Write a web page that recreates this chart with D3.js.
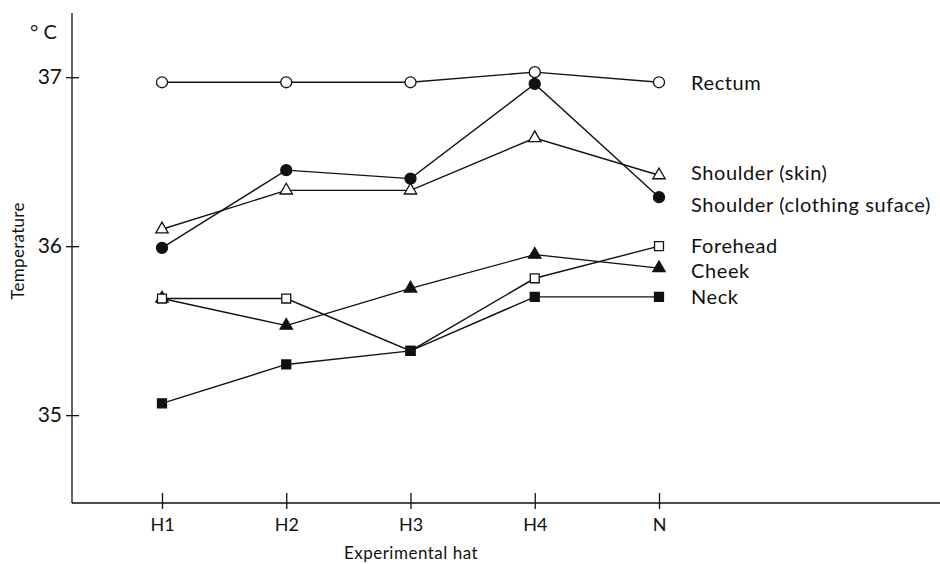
<!DOCTYPE html>
<html>
<head>
<meta charset="utf-8">
<script src="https://cdn.jsdelivr.net/npm/d3@7"></script>
<style>
  body { margin: 0; background: #fff; }
  svg text { font-family: Lato, "Open Sans", sans-serif; fill: #111; }
</style>
</head>
<body>
<svg id="chart" width="940" height="564"></svg>
<script>
// hats on the x axis
var hats = ["H1", "H2", "H3", "H4", "N"];

// temperatures (deg C)
var rectum           = [36.97, 36.97, 36.97, 37.03, 36.97];
var shoulderClothing = [35.99, 36.45, 36.40, 36.96, 36.29];
var shoulderSkin     = [36.10, 36.33, 36.33, 36.64, 36.42];
var forehead         = [35.69, 35.69, 35.38, 35.81, 36.00];
var cheek            = [35.69, 35.53, 35.75, 35.95, 35.87];
var neck             = [35.07, 35.30, 35.38, 35.70, 35.70];

var yTicks = [35, 36, 37];

// draw order matters: later series sit on top
var series = [
  {name: "Cheek", values: cheek, marker: "triangle", filled: true, dy: 3},
  {name: "Forehead", values: forehead, marker: "square", filled: false, dy: 0},
  {name: "Neck", values: neck, marker: "square", filled: true, dy: 0},
  {name: "Shoulder (clothing suface)", values: shoulderClothing, marker: "circle", filled: true, dy: 8},
  {name: "Shoulder (skin)", values: shoulderSkin, marker: "triangle", filled: false, dy: -2},
  {name: "Rectum", values: rectum, marker: "circle", filled: false, dy: 1}
];

var svg = d3.select("#chart");

var axisX = 72, axisY = 503;

var x = d3.scalePoint().domain(hats).range([162, 659]);
var y = d3.scaleLinear().domain([34.48, 37.38]).range([axisY, 13]);

// y axis
var yAxis = svg.append("g").attr("transform", "translate(" + axisX + ",0)")
  .call(d3.axisLeft(y).tickValues(yTicks).tickSize(0).tickPadding(10).tickFormat(d3.format("d")));
yAxis.select(".domain").remove();
yAxis.selectAll("text").attr("font-size", 21).attr("font-family", null);
yAxis.selectAll(".tick").append("line")
  .attr("x1", -6).attr("x2", 7).attr("stroke", "#111").attr("stroke-width", 1.3);
svg.append("line").attr("x1", axisX).attr("x2", axisX).attr("y1", 13).attr("y2", axisY)
  .attr("stroke", "#111").attr("stroke-width", 1.3);

// x axis
var xAxis = svg.append("g").attr("transform", "translate(0," + axisY + ")")
  .call(d3.axisBottom(x).tickSize(0).tickPadding(15));
xAxis.select(".domain").remove();
xAxis.selectAll("text").attr("font-size", 18).attr("font-family", null);
xAxis.selectAll(".tick").append("line")
  .attr("y1", -10).attr("y2", 6).attr("stroke", "#111").attr("stroke-width", 1.3);
svg.append("line").attr("x1", axisX).attr("x2", 940).attr("y1", axisY).attr("y2", axisY)
  .attr("stroke", "#111").attr("stroke-width", 1.3);

// axis titles
svg.append("text").attr("x", 30).attr("y", 39).attr("font-size", 20).text("° C");
svg.append("text").attr("transform", "translate(24,251) rotate(-90)")
  .attr("text-anchor", "middle").attr("font-size", 17).attr("letter-spacing", 0.3).text("Temperature");
svg.append("text").attr("x", 411).attr("y", 559)
  .attr("text-anchor", "middle").attr("font-size", 17).attr("letter-spacing", 0.5).text("Experimental hat");

var line = d3.line().x(function (d, i) { return x(hats[i]); }).y(function (d) { return y(d); });

var sym = {
  circle: d3.symbol().type(d3.symbolCircle).size(95),
  square: d3.symbol().type(d3.symbolSquare).size(80),
  triangle: d3.symbol().type(d3.symbolTriangle).size(66)
};

var g = svg.selectAll(".series").data(series).join("g").attr("class", "series");

g.append("path")
  .attr("d", function (d) { return line(d.values); })
  .attr("fill", "none").attr("stroke", "#111").attr("stroke-width", 1.4);

g.selectAll(".pt").data(function (d) {
    return d.values.map(function (v, i) { return {v: v, i: i, s: d}; });
  })
  .join("path").attr("class", "pt")
  .attr("transform", function (d) { return "translate(" + x(hats[d.i]) + "," + y(d.v) + ")"; })
  .attr("d", function (d) { return sym[d.s.marker](); })
  .attr("fill", function (d) { return d.s.filled ? "#111" : "#fff"; })
  .attr("stroke", "#111").attr("stroke-width", 1.3);

// series labels at the right end
g.append("text")
  .attr("x", 691)
  .attr("y", function (d) { return y(d.values[d.values.length - 1]) + d.dy; })
  .attr("dy", "0.35em")
  .attr("font-size", 20)
  .attr("letter-spacing", 0.6)
  .text(function (d) { return d.name; });
</script>
</body>
</html>
